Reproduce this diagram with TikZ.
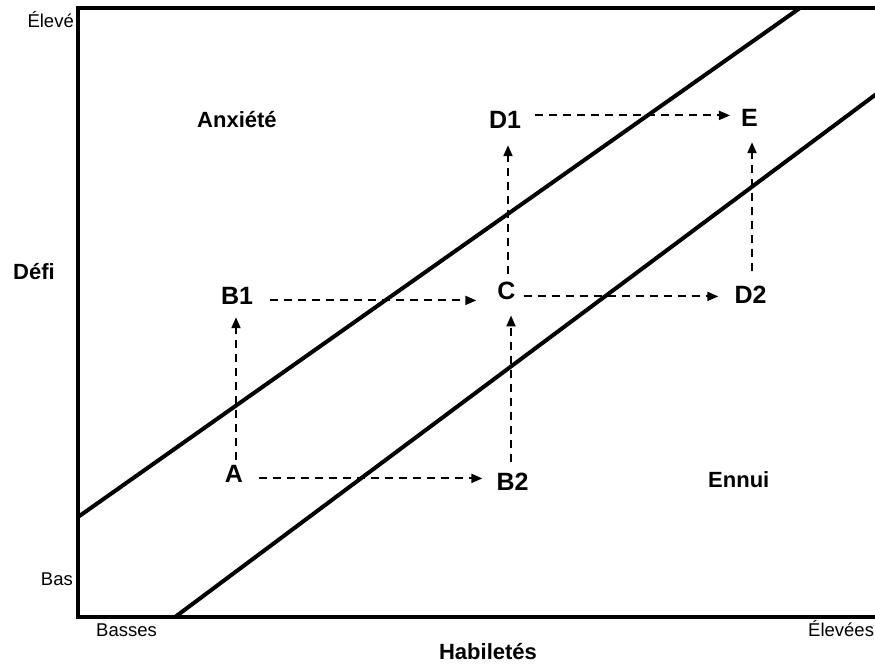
\documentclass[tikz,border=0pt]{standalone}
\usepackage{fontspec}
\setmainfont{Liberation Sans}
\usetikzlibrary{arrows.meta,calc}
\tikzset{
  pt/.style={inner sep=0pt, anchor=base, font=\fontsize{25}{30}\selectfont\bfseries},
  lab/.style={inner sep=0pt, font=\fontsize{22}{26}\selectfont\bfseries},
  small/.style={inner sep=0pt, font=\fontsize{18.5}{22}\selectfont},
  arr/.style={line width=2pt, dash pattern=on 8pt off 6pt, -{Triangle[length=11pt,width=9pt]}},
  thick4/.style={line width=4pt},
}
\begin{document}
\begin{tikzpicture}[x=1pt,y=-1pt]
\useasboundingbox (0,0) rectangle (875,667);
% diagonals
\begin{scope}
\clip (78,8) rectangle (875,617);
\draw[thick4] (60,529.7) -- (825.5,-10);
\draw[thick4] (144.2,640) -- (900,76.4);
\end{scope}
% frame
\draw[thick4, line join=miter] (880,8) -- (78,8) -- (78,617) -- (880,617);
% axis labels
\node[small, anchor=base east] (hi) at (74,27) {Élevé};
\node[small, anchor=base east] (lo) at (73,585) {Bas};
\node[small, anchor=base west] (xlo) at (96,636) {Basses};
\node[small, anchor=base west] (xhi) at (808,636) {Élevées};
\node[lab, anchor=base] (xl) at (488,659) {Habiletés};
\node[lab, anchor=base west] (yl) at (13,279) {Défi};
\node[lab, anchor=base west] (anx) at (197,127) {Anxiété};
\node[lab, anchor=base west] (enn) at (708,487) {Ennui};
% points
\node[pt] (A) at (234,482) {A};
\node[pt] (B1) at (237,304) {B1};
\node[pt] (B2) at (512.5,490) {B2};
\node[pt] (C) at (506.5,299) {C};
\node[pt] (D1) at (505,128) {D1};
\node[pt] (D2) at (750.5,303) {D2};
\node[pt] (E) at (749.5,126) {E};
% arrows
\coordinate (ab2) at ($(A.east)+(16,5)$);
\draw[arr] (ab2) -- ($(ab2 -| B2.west)+(-14,0)$);
\coordinate (ab1) at ($(A.north)+(2,-5)$);
\draw[arr] (ab1) -- ($(ab1 |- B1.south)+(0,13)$);
\coordinate (b1c) at ($(B1.east)+(17,5)$);
\draw[arr] (b1c) -- ($(b1c -| C.west)+(-21,0)$);
\coordinate (b2c) at ($(B2.north)+(-1.5,-10)$);
\draw[arr] (b2c) -- ($(b2c |- C.south)+(0,16)$);
\coordinate (cd1) at ($(C.north)+(1.5,-7)$);
\draw[arr] (cd1) -- ($(cd1 |- D1.south)+(0,17)$);
\coordinate (cd2) at ($(C.east)+(8,6)$);
\draw[arr] (cd2) -- ($(cd2 -| D2.west)+(-16,0)$);
\coordinate (d1e) at ($(D1.east)+(14,-4)$);
\draw[arr] (d1e) -- ($(d1e -| E.west)+(-11,0)$);
\coordinate (d2e) at ($(D2.north)+(1.5,-14)$);
\draw[arr] (d2e) -- ($(d2e |- E.south)+(0,16)$);
\end{tikzpicture}
\end{document}
